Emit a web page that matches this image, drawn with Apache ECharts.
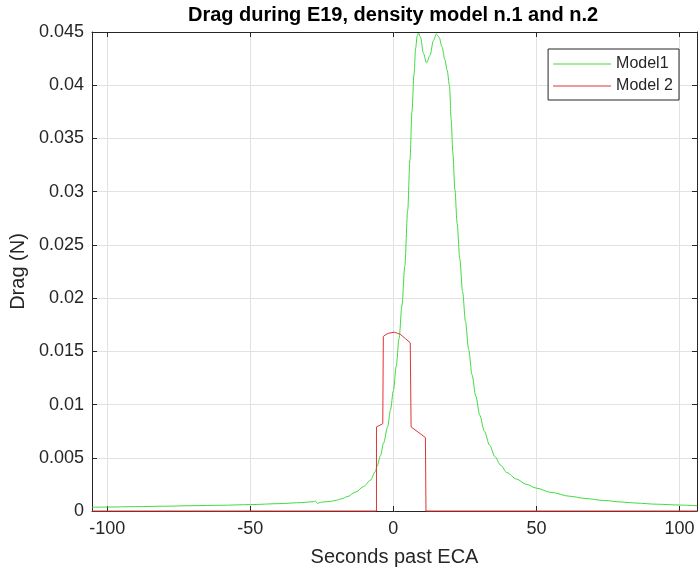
<!DOCTYPE html>
<html>
<head>
<meta charset="utf-8">
<script src="https://cdn.jsdelivr.net/npm/echarts@6/dist/echarts.min.js"></script>
<style>
html,body{margin:0;padding:0;background:#fff;}
#chart{width:699px;height:574px;}
</style>
</head>
<body>
<div id="chart"></div>
<script>
var titleText = 'Drag during E19, density model n.1 and n.2';
var xName = 'Seconds past ECA';
var yName = 'Drag (N)';
var seriesNames = ['Model1', 'Model 2'];
var xMin = -105.3, xMax = 106.1;
var yMin = 0, yMax = 0.045, yStep = 0.005;

var model1X = [-105.3, -100, -90, -80, -70, -60, -50, -40, -32, -28, -27.2, -26.6, -25.5, -24.4, -22, -20, -18, -16.2, -13, -10.4, -8, -6.3, -5.7, -4.5, -3.4, -2, -1, 0, 1, 2, 3, 4, 5, 5.8, 6.5, 7.2, 7.8, 8.3, 8.8, 9.5, 10.5, 11.6, 12.8, 14.0, 15.0, 16.0, 17.0, 18.0, 18.8, 19.6, 20.2, 20.8, 21.5, 22.3, 23.2, 24.2, 25.2, 26.3, 27.5, 28.8, 30.2, 31.8, 33.6, 35.5, 37.5, 39.7, 43, 46.5, 50, 55, 61.8, 67, 73.5, 80, 85, 92, 100, 106.1];
var model1Y = [0.00035, 0.00037, 0.00041, 0.00045, 0.00050, 0.00054, 0.00060, 0.00069, 0.00079, 0.00087, 0.00092, 0.00072, 0.00080, 0.00085, 0.00090, 0.00100, 0.00115, 0.00134, 0.0018, 0.0023, 0.0029, 0.0037, 0.0042, 0.0052, 0.0064, 0.0079, 0.0095, 0.0113, 0.0136, 0.0162, 0.0193, 0.0230, 0.0282, 0.0330, 0.0375, 0.0410, 0.0435, 0.0446, 0.0449, 0.0445, 0.0430, 0.0421, 0.0428, 0.0442, 0.0448, 0.0445, 0.0436, 0.0424, 0.0414, 0.0400, 0.0368, 0.0336, 0.0302, 0.0270, 0.0237, 0.0206, 0.0178, 0.0152, 0.0128, 0.0108, 0.0090, 0.0075, 0.0062, 0.0051, 0.0043, 0.0036, 0.0030, 0.0025, 0.00215, 0.00175, 0.00138, 0.00118, 0.00099, 0.00084, 0.00074, 0.00064, 0.00056, 0.00049];

var model2X = [-105.3, -5.9, -5.9, -3.7, -3.5, -2.5, -1.6, 0.3, 1.4, 2.4, 3.3, 4.2, 5.9, 6.2, 11.2, 11.4, 106.1];
var model2Y = [0, 0, 0.0079, 0.0082, 0.0164, 0.0166, 0.0167, 0.0168, 0.0167, 0.0166, 0.0164, 0.0162, 0.0158, 0.0079, 0.0069, 0, 0];

function pairs(xs, ys) { return xs.map(function (x, i) { return [x, ys[i]]; }); }

var axisColor = '#262626';
var gridColor = '#e2e2e2';
var fontFamily = 'Arial, "Liberation Sans", Helvetica, sans-serif';

var chart = echarts.init(document.getElementById('chart'), null, {renderer: 'canvas'});
chart.setOption({
  animation: false,
  backgroundColor: '#ffffff',
  textStyle: {fontFamily: fontFamily},
  title: {
    text: titleText,
    left: 188,
    top: 0,
    padding: [5, 0, 0, 0],
    textStyle: {fontSize: 20, fontWeight: 'bold', color: '#000', fontFamily: fontFamily}
  },
  legend: {
    orient: 'vertical',
    right: 20,
    top: 49,
    padding: [7, 6, 6, 5],
    itemGap: 6,
    itemWidth: 58,
    itemHeight: 1,
    icon: 'rect',
    borderColor: axisColor,
    borderWidth: 1,
    backgroundColor: '#fff',
    data: seriesNames,
    textStyle: {fontSize: 16, color: axisColor, lineHeight: 16, fontFamily: fontFamily}
  },
  grid: {left: 92, right: 2, top: 32, bottom: 63, containLabel: false},
  xAxis: [{
    type: 'value', min: xMin, max: xMax, position: 'bottom',
    name: xName, nameLocation: 'middle', nameGap: 36,
    nameTextStyle: {fontSize: 20, color: axisColor, fontFamily: fontFamily},
    axisLine: {show: true, onZero: false, lineStyle: {color: axisColor, width: 1}},
    axisTick: {show: true, inside: true, length: 5, lineStyle: {color: axisColor}},
    axisLabel: {fontSize: 18, color: axisColor, margin: 9, showMinLabel: false, showMaxLabel: false, fontFamily: fontFamily},
    splitLine: {show: true, lineStyle: {color: gridColor, width: 1}}
  }, {
    type: 'value', min: xMin, max: xMax, position: 'top',
    axisLine: {show: true, onZero: false, lineStyle: {color: axisColor, width: 1}},
    axisTick: {show: true, inside: true, length: 5, lineStyle: {color: axisColor}},
    axisLabel: {show: false},
    splitLine: {show: false}
  }],
  yAxis: [{
    type: 'value', min: yMin, max: yMax, interval: yStep, position: 'left',
    name: yName, nameLocation: 'middle', nameGap: 62, nameRotate: 90,
    nameTextStyle: {fontSize: 20, color: axisColor, fontFamily: fontFamily},
    axisLine: {show: true, onZero: false, lineStyle: {color: axisColor, width: 1}},
    axisTick: {show: true, inside: true, length: 5, lineStyle: {color: axisColor}},
    axisLabel: {fontSize: 18, color: axisColor, margin: 8, fontFamily: fontFamily,
      formatter: function (v) { return String(+v.toFixed(3)); }},
    splitLine: {show: true, lineStyle: {color: gridColor, width: 1}}
  }, {
    type: 'value', min: yMin, max: yMax, interval: yStep, position: 'right',
    axisLine: {show: true, onZero: false, lineStyle: {color: axisColor, width: 1}},
    axisTick: {show: true, inside: true, length: 5, lineStyle: {color: axisColor}},
    axisLabel: {show: false},
    splitLine: {show: false}
  }],
  series: [{
    name: seriesNames[0], type: 'line', xAxisIndex: 0, yAxisIndex: 0,
    data: pairs(model1X, model1Y),
    symbol: 'none', showSymbol: false, smooth: 0.3, smoothMonotone: 'x', clip: false,
    lineStyle: {color: '#3fdc3f', width: 1}, itemStyle: {color: '#3fdc3f'}
  }, {
    name: seriesNames[1], type: 'line', xAxisIndex: 0, yAxisIndex: 0,
    data: pairs(model2X, model2Y),
    symbol: 'none', showSymbol: false, clip: false,
    lineStyle: {color: '#e03434', width: 1}, itemStyle: {color: '#e03434'}
  }]
});
</script>
</body>
</html>
